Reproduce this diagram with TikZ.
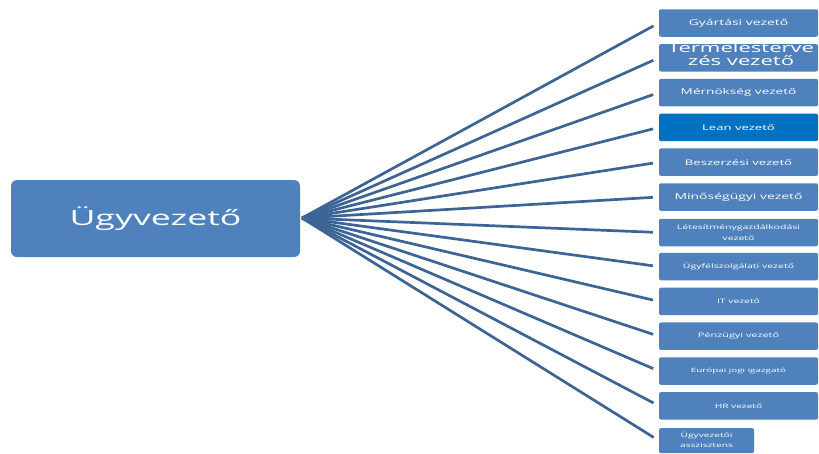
\documentclass[tikz,border=0pt]{standalone}
\usepackage{fontspec}
\usepackage{graphicx}
\setmainfont{Open Sans}
\definecolor{boxblue}{HTML}{4F81BD}
\definecolor{leanblue}{HTML}{0070C0}
\definecolor{linkblue}{HTML}{3C6595}
\newcommand{\wt}[2]{\scalebox{1.7}[1]{\fontsize{#1}{#1}\selectfont #2}}
\newcommand{\wtt}[4]{\scalebox{1.7}[1]{\fontsize{#1}{#2}\selectfont\begin{tabular}{@{}c@{}}#3\\#4\end{tabular}}}
\begin{document}
\begin{tikzpicture}[x=1pt,y=-1pt,
  unit/.style={fill=boxblue, text=white, rounded corners=2pt, minimum width=159pt, minimum height=27.5pt, inner sep=0pt, anchor=center},
  link/.style={draw=linkblue, line width=2.7pt, shorten >=6pt}]
\useasboundingbox (0,0) rectangle (819,453);
\node[fill=boxblue, rounded corners=6pt, minimum width=289pt, minimum height=77pt, inner sep=0pt, text=white] (ceo) at (155.5,218.5) {\wt{21}{Ügyvezető}};
\coordinate (hub) at (302,218);
\node[unit] (u1) at (738.5,23) {\wt{8.2}{Gyártási vezető}};
\node[unit] (u2) at (738.5,57.8) {};
\node[text=white, inner sep=0pt, align=center] (u2t) at (741,56) {\scalebox{1.7}[1]{\fontsize{13}{15}\selectfont\begin{tabular}{@{}c@{}}Termelésterve\\[-1.5pt]zés vezető\end{tabular}}};
\node[unit] (u3) at (738.5,92.6) {\wt{8}{Mérnökség vezető}};
\node[unit, fill=leanblue] (u4) at (738.5,127.4) {\wt{7.7}{Lean vezető}};
\node[unit] (u5) at (738.5,162.2) {\wt{7.7}{Beszerzési vezető}};
\node[unit] (u6) at (738.5,197) {\wt{8.2}{Minőségügyi vezető}};
\node[unit] (u7) at (738.5,232.5) {\wtt{6.2}{11}{Létesítménygazdálkodási}{vezető}};
\node[unit] (u8) at (738.5,266.6) {\wt{6.2}{Ügyfélszolgálati vezető}};
\node[unit] (u9) at (738.5,301.4) {\wt{6.1}{IT vezető}};
\node[unit] (u10) at (738.5,336.2) {\wt{6.4}{Pénzügyi vezető}};
\node[unit] (u11) at (738.5,371) {\wt{5.8}{Európai jogi igazgató}};
\node[unit] (u12) at (738.5,405.8) {\wt{6}{HR vezető}};
\node[unit, minimum width=95pt, minimum height=25pt] (u13) at (706.5,440.6) {\wtt{6}{9.5}{Ügyvezetői}{asszisztens}};
\foreach \i in {1,...,13} {\draw[link] (hub) -- (u\i.west);}
\end{tikzpicture}
\end{document}
